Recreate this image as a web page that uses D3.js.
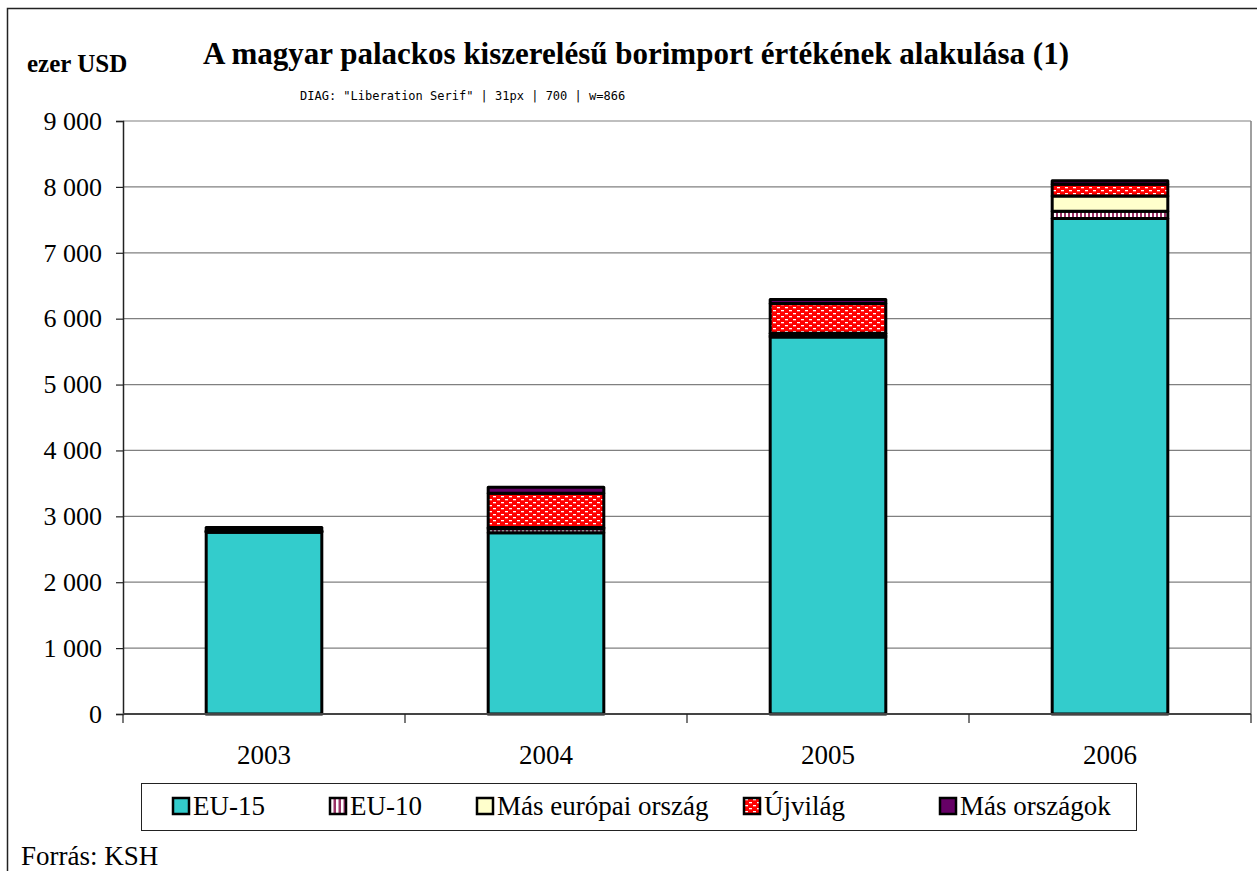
<!DOCTYPE html>
<html>
<head>
<meta charset="utf-8">
<script src="https://cdn.jsdelivr.net/npm/d3@7"></script>
</head>
<body style="margin:0">
<svg id="s" width="1257" height="871"></svg>
<script>
const years = ["2003", "2004", "2005", "2006"];
const seriesNames = ["EU-15", "EU-10", "Más európai ország", "Újvilág", "Más országok"];
const eu15 = [2760, 2750, 5720, 7520];
const eu10 = [10, 60, 20, 110];
const masEuropai = [5, 20, 40, 230];
const ujvilag = [10, 520, 450, 180];
const masOrszagok = [45, 90, 60, 55];
const yTicks = [0, 1000, 2000, 3000, 4000, 5000, 6000, 7000, 8000, 9000];
const titleText = "A magyar palackos kiszerelésű borimport értékének alakulása (1)";
const unitText = "ezer USD";
const sourceText = "Forrás: KSH";

const FONT = "'Liberation Serif'";
function serif(t, size, bold) {
  t.attr("font-family", "Liberation Serif")
   .style("font-family", FONT, "important")
   .style("font-size", size + "px", "important")
   .style("font-weight", bold ? "bold" : "normal", "important");
  return t;
}

const keys = ["eu15", "eu10", "masEuropai", "ujvilag", "masOrszagok"];
const seriesValues = [eu15, eu10, masEuropai, ujvilag, masOrszagok];
const table = years.map((yr, i) => {
  const row = {year: yr};
  keys.forEach((k, j) => row[k] = seriesValues[j][i]);
  return row;
});

const svg = d3.select("#s");
const defs = svg.append("defs");

const pEu10 = defs.append("pattern").attr("id", "pEu10").attr("patternUnits", "userSpaceOnUse")
  .attr("width", 4).attr("height", 4);
pEu10.append("rect").attr("width", 4).attr("height", 4).attr("fill", "#993366");
pEu10.append("rect").attr("x", 2).attr("y", 0).attr("width", 2).attr("height", 4).attr("fill", "#ffffff");

const pUj = defs.append("pattern").attr("id", "pUj").attr("patternUnits", "userSpaceOnUse")
  .attr("width", 8).attr("height", 6);
pUj.append("rect").attr("width", 8).attr("height", 6).attr("fill", "#ff0000");
pUj.append("rect").attr("x", 1).attr("y", 1).attr("width", 3).attr("height", 1.3).attr("fill", "#ffffff");
pUj.append("rect").attr("x", 5).attr("y", 4).attr("width", 3).attr("height", 1.3).attr("fill", "#ffffff");

const pL = defs.append("pattern").attr("id", "pEu10L").attr("patternUnits", "userSpaceOnUse")
  .attr("width", 5).attr("height", 5);
pL.append("rect").attr("width", 5).attr("height", 5).attr("fill", "#993366");
pL.append("rect").attr("x", 1).attr("width", 2.5).attr("height", 5).attr("fill", "#ffffff");

const fills = ["#33cccc", "url(#pEu10)", "#ffffcc", "url(#pUj)", "#660066"];

svg.append("rect").attr("x", 7.5).attr("y", 8.5).attr("width", 1300).attr("height", 900)
  .attr("fill", "none").attr("stroke", "#222").attr("stroke-width", 1.5);

const pLeft = 123, pRight = 1251, pTop = 121, pBottom = 714;
const x = d3.scaleBand().domain(years).range([pLeft, pRight]).paddingInner(0.59).paddingOuter(0.295);
const y = d3.scaleLinear().domain([0, 9000]).range([pBottom, pTop]);

svg.append("g").selectAll("line").data(yTicks.filter(d => d > 0)).join("line")
  .attr("x1", pLeft).attr("x2", pRight).attr("y1", d => y(d)).attr("y2", d => y(d))
  .attr("stroke", "#808080").attr("stroke-width", 1.2);
svg.append("line").attr("x1", pRight).attr("x2", pRight).attr("y1", pTop).attr("y2", pBottom)
  .attr("stroke", "#808080").attr("stroke-width", 1.5);

const stack = d3.stack().keys(keys)(table);
svg.append("g").selectAll("g").data(stack).join("g")
  .attr("fill", (d, i) => fills[i])
  .selectAll("rect").data(d => d).join("rect")
  .attr("x", d => x(d.data.year))
  .attr("width", x.bandwidth())
  .attr("y", d => y(d[1]))
  .attr("height", d => y(d[0]) - y(d[1]))
  .attr("stroke", "#000").attr("stroke-width", 3).attr("stroke-linejoin", "round");

const fmt = d3.formatLocale({decimal: ",", thousands: " ", grouping: [3], currency: ["", ""]}).format(",");
const yAxis = svg.append("g").attr("transform", `translate(${pLeft},0)`)
  .call(d3.axisLeft(y).tickValues(yTicks).tickSize(7).tickPadding(14).tickFormat(fmt));
yAxis.attr("font-family", "Liberation Serif").attr("font-size", 26);
yAxis.select(".domain").attr("stroke", "#222").attr("stroke-width", 1.5);
yAxis.selectAll(".tick line").attr("stroke", "#222").attr("stroke-width", 1.2);
serif(yAxis.selectAll(".tick text").attr("fill", "#000"), 26, false);

const step = x.step();
const bounds = [0, 1, 2, 3, 4].map(i => pLeft + i * step);
svg.append("line").attr("x1", pLeft).attr("x2", pRight).attr("y1", pBottom).attr("y2", pBottom)
  .attr("stroke", "#444").attr("stroke-width", 2);
svg.append("g").selectAll("line").data(bounds).join("line")
  .attr("x1", d => d).attr("x2", d => d).attr("y1", pBottom).attr("y2", pBottom + 9)
  .attr("stroke", "#222").attr("stroke-width", 1.2);
serif(svg.append("g").selectAll("text").data(years).join("text")
  .attr("x", d => x(d) + x.bandwidth() / 2).attr("y", 764)
  .attr("text-anchor", "middle").text(d => d), 27, false);

const titleEl = serif(svg.append("text").attr("x", 636).attr("y", 64).attr("text-anchor", "middle").text(titleText), 31, true);
serif(svg.append("text").attr("x", 27).attr("y", 72).text(unitText), 25, true);

svg.append("rect").attr("x", 141.5).attr("y", 783.5).attr("width", 995).attr("height", 47)
  .attr("fill", "#fff").attr("stroke", "#222").attr("stroke-width", 1);
const legX = [173, 330, 477, 744, 940];
const lg = svg.append("g").selectAll("g").data(seriesNames).join("g")
  .attr("transform", (d, i) => `translate(${legX[i]},798)`);
lg.append("rect").attr("width", 16).attr("height", 16)
  .attr("fill", (d, i) => i === 1 ? "url(#pEu10L)" : fills[i])
  .attr("stroke", "#000").attr("stroke-width", 2.5);
serif(lg.append("text").attr("x", 20).attr("y", 17).text(d => d), 27, false);

serif(svg.append("text").attr("x", 21).attr("y", 865).text(sourceText), 27, false);

// temporary diagnostic
const cs = getComputedStyle(titleEl.node());
svg.append("text").attr("x", 300).attr("y", 100).style("font-family", "'DejaVu Sans Mono'").style("font-size", "12px")
  .text("DIAG: " + cs.fontFamily + " | " + cs.fontSize + " | " + cs.fontWeight + " | w=" + Math.round(titleEl.node().getComputedTextLength()));
</script>
</body>
</html>
